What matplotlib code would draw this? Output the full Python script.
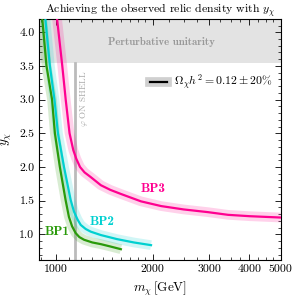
import numpy as np
import matplotlib
matplotlib.use("Agg")
import matplotlib.pyplot as plt
from matplotlib.lines import Line2D
from matplotlib.ticker import FixedLocator, NullFormatter, FixedFormatter

plt.rcParams['font.family'] = 'cmr10'
plt.rcParams['mathtext.fontset'] = 'cm'
plt.rcParams['axes.unicode_minus'] = False
plt.rcParams['axes.formatter.use_mathtext'] = True

# data
bp1_x = [905, 937, 975, 995, 1031, 1074, 1100, 1125, 1154, 1185, 1226, 1300, 1382, 1480, 1595]
bp1_y = [4.3, 3.5, 3.0, 2.5, 2.0, 1.51, 1.26, 1.12, 1.02, 0.96, 0.92, 0.88, 0.855, 0.82, 0.78]
bp2_x = [925, 960, 992, 1017, 1062, 1114, 1140, 1170, 1197, 1240, 1286, 1382, 1550, 1750, 1979]
bp2_y = [4.3, 3.5, 3.0, 2.5, 2.0, 1.51, 1.34, 1.22, 1.14, 1.08, 1.04, 0.99, 0.93, 0.88, 0.84]
bp3_x = [1005, 1049, 1075, 1105, 1135, 1160, 1191, 1230, 1286, 1382, 1480, 1595, 1842, 2127,
         2500, 2973, 3433, 4000, 5000]
bp3_y = [4.3, 3.5, 3.0, 2.5, 2.25, 2.12, 2.0, 1.92, 1.85, 1.73, 1.66, 1.60, 1.49, 1.42,
         1.37, 1.33, 1.29, 1.27, 1.25]
onshell_x = 1145
unitarity_y = np.sqrt(4 * np.pi)

c1, c2, c3 = '#2a9a0a', '#00d0d0', '#ff0090'

fig = plt.figure(figsize=(2.92, 3.03), dpi=100)
ax = fig.add_axes([0.1346, 0.142, 0.8264, 0.796])

ax.set_xscale('log')
ax.set_xlim(890, 5000)
ax.set_ylim(0.62, 4.2)

ax.axhspan(unitarity_y, 4.2, color='#e3e3e3', zorder=0, lw=0)
ax.text(2125, 3.86, 'Perturbative unitarity', family='cmb10', fontsize=7.8,
        color='#999999', ha='center', va='center')

ax.plot([onshell_x, onshell_x], [0.62, unitarity_y], color='#bbbbbb', lw=2, zorder=1)
ax.text(1225, 3.44, r'$\varphi$ ON SHELL', rotation=90, fontsize=6.5,
        color='#aaaaaa', ha='center', va='top')

for xs, ys, c in [(bp1_x, bp1_y, c1), (bp2_x, bp2_y, c2), (bp3_x, bp3_y, c3)]:
    ax.plot(xs, ys, color=c, lw=7, alpha=0.18, solid_capstyle='butt', zorder=2)
    ax.plot(xs, ys, color=c, lw=1.6, zorder=3)

ax.text(1012, 1.04, 'BP1', family='cmb10', color=c1, fontsize=9.5, ha='center', va='center')
ax.text(1395, 1.19, 'BP2', family='cmb10', color=c2, fontsize=9.5, ha='center', va='center')
ax.text(2005, 1.67, 'BP3', family='cmb10', color=c3, fontsize=9.5, ha='center', va='center')

h = (Line2D([], [], color='#d0d0d0', lw=7), Line2D([], [], color='black', lw=1.6))
ax.legend([h], [r'$\Omega_\chi h^2 = 0.12 \pm 20\%$'], loc='upper right',
          bbox_to_anchor=(1.0, 0.81), frameon=False, fontsize=8.5,
          handlelength=1.4, handletextpad=0.6, borderaxespad=0.3)

ax.xaxis.set_major_locator(FixedLocator([1000, 2000, 3000, 4000, 5000]))
ax.xaxis.set_major_formatter(FixedFormatter(['1000', '2000', '3000', '4000', '5000']))
minors = list(range(900, 2000, 100)) + list(range(2250, 5000, 250))
ax.xaxis.set_minor_locator(FixedLocator(minors))
ax.xaxis.set_minor_formatter(NullFormatter())
ax.set_yticks([1.0, 1.5, 2.0, 2.5, 3.0, 3.5, 4.0])
ax.set_yticklabels(['1.0', '1.5', '2.0', '2.5', '3.0', '3.5', '4.0'])
ax.set_yticks(np.arange(0.7, 4.2, 0.1), minor=True)
ax.tick_params(which='both', direction='in', top=True, right=True, labelsize=8.5)
ax.tick_params(which='major', length=4, width=0.6)
ax.tick_params(which='minor', length=2, width=0.5)
for s in ax.spines.values():
    s.set_linewidth(0.8)

ax.set_xlabel(r'$m_\chi\,$[GeV]', fontsize=9.5)
ax.set_ylabel(r'$y_\chi$', fontsize=9.5)
ax.set_title(r'Achieving the observed relic density with $y_\chi$', fontsize=8.5, pad=3)

fig.savefig('out.png', dpi=100)
